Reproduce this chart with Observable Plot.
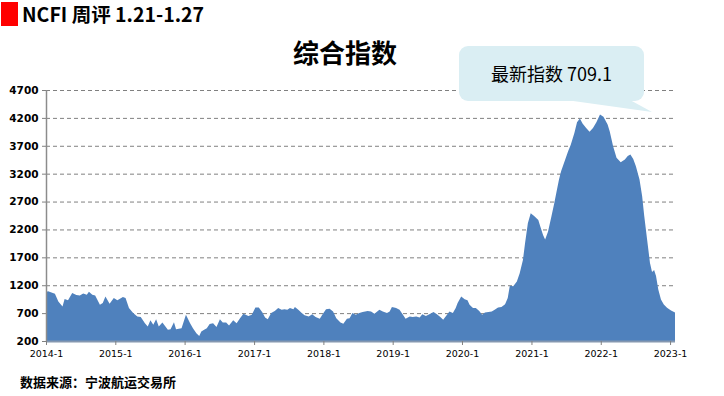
<!DOCTYPE html>
<html>
<head>
<meta charset="utf-8">
<script src="https://cdn.jsdelivr.net/npm/d3@7"></script>
<script src="https://cdn.jsdelivr.net/npm/@observablehq/plot@0.6"></script>
<style>
  html, body { margin: 0; padding: 0; background: #fff; }
  #wrap { position: relative; width: 724px; height: 396px; overflow: hidden; font-family: "Noto Sans CJK SC", sans-serif; }
  #chart { position: absolute; left: 0; top: 0; }
  .redbox { position: absolute; left: 1px; top: 2px; width: 17px; height: 24px; background: #ff0000; }
  .head { position: absolute; left: 22px; top: 1px; font-size: 19.5px; font-weight: bold; color: #000; line-height: 26px; white-space: nowrap; }
  .title { position: absolute; left: 0; width: 690px; top: 34px; text-align: center; font-size: 26px; font-weight: bold; line-height: 36px; color: #000; }
  .callout { position: absolute; left: 459px; top: 46px; width: 185px; height: 55px; background: #daeef3; border-radius: 9px; text-align: center; font-size: 18px; line-height: 55px; color: #000; white-space: nowrap; }
  .tail { position: absolute; left: 0; top: 0; }
  .source { position: absolute; left: 20px; top: 372px; font-size: 13px; font-weight: bold; line-height: 20px; color: #000; white-space: nowrap; }
</style>
</head>
<body>
<div id="wrap">
  <div id="chart"></div>
  <div class="redbox"></div>
  <div class="head">NCFI 周评 1.21-1.27</div>
  <div class="title">综合指数</div>
  <svg class="tail" width="724" height="396"><polygon points="566,100 652,112 630,100" fill="#daeef3"></polygon></svg>
  <div class="callout">最新指数 709.1</div>
  <div class="source">数据来源：宁波航运交易所</div>
</div>
<script>
const dates = [
  "2014-01-01","2014-01-12","2014-02-17","2014-03-07","2014-03-29","2014-04-09","2014-04-27","2014-05-19","2014-06-10","2014-06-28",
  "2014-07-16","2014-08-04","2014-08-15","2014-09-02","2014-09-17","2014-10-12","2014-10-27","2014-11-10","2014-12-02","2014-12-24",
  "2015-01-12","2015-02-10","2015-02-24","2015-03-14","2015-04-05","2015-04-27","2015-05-15","2015-06-06","2015-06-21","2015-07-05",
  "2015-07-20","2015-08-04","2015-08-18","2015-09-06","2015-09-24","2015-10-05","2015-10-19","2015-11-06","2015-11-17","2015-12-16",
  "2016-01-08","2016-01-30","2016-02-14","2016-03-03","2016-03-18","2016-03-29","2016-04-13","2016-04-27","2016-05-12","2016-05-30",
  "2016-06-17","2016-07-05","2016-07-20","2016-08-07","2016-08-22","2016-09-13","2016-10-01","2016-10-19","2016-11-06","2016-12-02",
  "2016-12-20","2017-01-08","2017-01-26","2017-02-14","2017-02-28","2017-03-14","2017-04-01","2017-04-20","2017-05-08","2017-05-26",
  "2017-06-10","2017-06-25","2017-07-09","2017-07-27","2017-08-04","2017-08-22","2017-09-09","2017-09-24","2017-10-16","2017-11-03",
  "2017-11-21","2017-12-13","2017-12-28","2018-01-15","2018-02-03","2018-02-21","2018-03-10","2018-04-01","2018-04-16","2018-05-05",
  "2018-05-19","2018-06-03","2018-06-21","2018-07-09","2018-07-27","2018-08-22","2018-09-09","2018-09-27","2018-10-23","2018-11-10",
  "2018-12-02","2018-12-16","2018-12-28","2019-01-19","2019-02-06","2019-02-24","2019-03-10","2019-04-01","2019-04-16","2019-05-05",
  "2019-05-23","2019-06-06","2019-06-25","2019-07-13","2019-08-04","2019-08-22","2019-09-09","2019-09-24","2019-10-09","2019-10-27",
  "2019-11-14","2019-11-29","2019-12-09","2019-12-28","2020-01-15","2020-01-30","2020-02-10","2020-02-28","2020-03-14","2020-04-01",
  "2020-04-16","2020-05-01","2020-05-19","2020-06-06","2020-06-21","2020-07-09","2020-07-27","2020-08-15","2020-08-29","2020-09-09",
  "2020-09-27","2020-10-16","2020-10-31","2020-11-17","2020-11-28","2020-12-13","2020-12-28","2021-01-15","2021-02-06","2021-02-17",
  "2021-03-03","2021-03-14","2021-03-29","2021-04-16","2021-05-01","2021-05-12","2021-05-26","2021-06-06","2021-06-25","2021-07-13",
  "2021-07-27","2021-08-15","2021-08-29","2021-09-13","2021-09-27","2021-10-16","2021-11-03","2021-11-21","2021-12-09","2021-12-28",
  "2022-01-15","2022-02-06","2022-02-17","2022-03-07","2022-03-25","2022-04-16","2022-05-08","2022-05-23","2022-06-06","2022-06-21",
  "2022-07-05","2022-07-24","2022-08-07","2022-08-18","2022-09-02","2022-09-17","2022-09-28","2022-10-09","2022-10-19","2022-10-31",
  "2022-11-14","2022-11-29","2022-12-16","2023-01-06","2023-01-27"
];
const values = [
  1080,1090,1048,910,820,953,930,1061,1025,1015,
  1050,1030,1085,1030,1015,850,880,1000,870,970,
  930,990,970,790,700,640,630,520,460,570,
  490,590,460,530,450,400,410,535,410,430,
  670,520,430,340,290,370,400,430,507,520,
  450,590,530,530,480,570,520,610,687,650,
  670,800,800,710,620,590,700,740,790,760,
  770,760,790,770,810,760,700,660,640,680,
  630,600,680,770,780,730,610,530,510,600,
  610,700,670,700,720,740,730,690,760,730,
  700,730,810,790,760,670,600,640,630,640,
  620,680,650,680,720,680,630,580,650,730,
  700,790,880,1000,950,930,850,790,790,740,
  670,710,720,730,760,800,810,860,970,1190,
  1180,1265,1415,1650,1950,2310,2490,2440,2370,2250,
  2100,2020,2160,2430,2670,2860,3095,3245,3425,3600,
  3720,3930,4120,4190,4100,4020,3950,4020,4120,4260,
  4220,4080,3960,3690,3485,3405,3455,3515,3545,3465,
  3335,3095,2795,2440,2020,1605,1435,1475,1365,1125,
  945,855,795,745,709.1
];
const yTicks = [200, 700, 1200, 1700, 2200, 2700, 3200, 3700, 4200, 4700];
const xTickYears = [2014, 2015, 2016, 2017, 2018, 2019, 2020, 2021, 2022, 2023];
const xStart = "2014-01-01";
const xEnd = "2023-01-27";

const data = dates.map((d, i) => ({date: new Date(d), value: values[i]}));
const xTicks = xTickYears.map(y => new Date(Date.UTC(y, 0, 1)));
const x0 = new Date(xStart);

const chart = Plot.plot({
  width: 724,
  height: 396,
  marginLeft: 46,
  marginRight: 49,
  marginTop: 90,
  marginBottom: 55,
  style: {fontFamily: "'DejaVu Sans', sans-serif", background: "transparent"},
  x: {type: "utc", domain: [x0, new Date(xEnd)]},
  y: {domain: [200, 4700]},
  marks: [
    Plot.gridY(yTicks.slice(1), {stroke: "#808080", strokeOpacity: 1, strokeDasharray: "4,3"}),
    Plot.areaY(data, {x: "date", y1: 200, y2: "value", fill: "#4f81bd"}),
    Plot.ruleY([200], {stroke: "#8497b0", strokeWidth: 2}),
    Plot.ruleX([x0], {stroke: "#8c8c8c", strokeWidth: 1.5}),
    Plot.axisY({ticks: yTicks, tickSize: 4, tickPadding: 4, fontWeight: "bold", fontSize: 10.5, stroke: "#808080", fill: "#000", label: null,
      tickFormat: d => String(d)}),
    Plot.axisX({ticks: xTicks, tickSize: 4, tickPadding: 5, fontSize: 9.5, stroke: "#808080", fill: "#000", label: null,
      tickFormat: d => `${d.getUTCFullYear()}-${d.getUTCMonth() + 1}`})
  ]
});
document.getElementById("chart").appendChild(chart);
</script>
</body>
</html>
